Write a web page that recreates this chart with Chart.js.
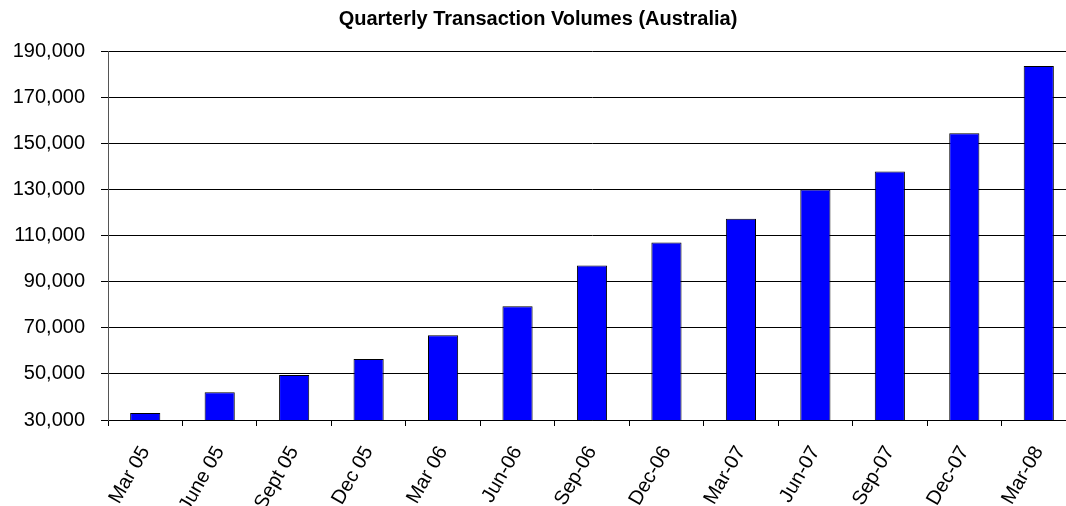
<!DOCTYPE html>
<html>
<head>
<meta charset="utf-8">
<title>Quarterly Transaction Volumes (Australia)</title>
<script src="https://cdn.jsdelivr.net/npm/chart.js@4.4.1/dist/chart.umd.min.js"></script>
<style>
	body { margin: 0; background: #fff; overflow: hidden; }
	#wrap { width: 1080px; height: 506px; position: relative; }
</style>
</head>
<body>
<div id="wrap"><canvas id="mycanvas"></canvas></div>
<script>
var quarters = ['Mar 05', 'June 05', 'Sept 05', 'Dec 05', 'Mar 06', 'Jun-06', 'Sep-06', 'Dec-06', 'Mar-07', 'Jun-07', 'Sep-07', 'Dec-07', 'Mar-08'];
var volumes = [33000, 42000, 49500, 56400, 66700, 79300, 97000, 107000, 117300, 130000, 137700, 154300, 183500];
var yMin = 30000;
var yMax = 190000;
var yStep = 20000;

Chart.defaults.font.family = 'Arial, "Liberation Sans", sans-serif';
Chart.defaults.color = '#000';

function renderChart(data, labels) {
	var ctx = document.getElementById('mycanvas');
	var myChart = new Chart(ctx, {
		type: 'bar',
		data: {
			labels: labels,
			datasets: [{
				label: 'Transactions',
				data: data,
				backgroundColor: '#0000ff',
				borderColor: '#000',
				borderWidth: 1,
				borderSkipped: 'bottom',
				barPercentage: 0.5,
				categoryPercentage: 0.81
			}]
		},
		options: {
			responsive: true,
			maintainAspectRatio: false,
			animation: false,
			layout: { padding: { left: 0, right: 4, top: 0, bottom: 0 } },
			plugins: {
				legend: { display: false },
				tooltip: { enabled: false },
				title: {
					display: true,
					text: 'Quarterly Transaction Volumes (Australia)',
					color: '#000',
					font: { size: 20, weight: 'bold' },
					padding: { top: 7, bottom: 20 }
				}
			},
			scales: {
				x: {
					grid: { display: true, drawOnChartArea: false, offset: true, color: '#000', tickLength: 6 },
					border: { color: '#000' },
					ticks: { font: { size: 20 }, maxRotation: 60, minRotation: 60, padding: 16 },
					afterFit: function(scale) { scale.height = 86; }
				},
				y: {
					min: yMin,
					max: yMax,
					grid: { color: '#000', tickLength: 7 },
					border: { color: '#555' },
					ticks: {
						stepSize: yStep,
						font: { size: 20 },
						padding: 16,
						callback: function(v) { return v.toLocaleString('en-US'); }
					},
					afterFit: function(scale) { scale.width = 108; }
				}
			}
		}
	});
}

renderChart(volumes, quarters);
</script>
</body>
</html>
